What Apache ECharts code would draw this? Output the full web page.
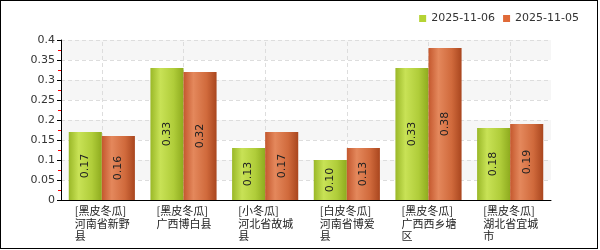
<!DOCTYPE html>
<html><head><meta charset="utf-8">
<script src="https://cdn.jsdelivr.net/npm/echarts@6/dist/echarts.min.js"></script>
<style>
html,body{margin:0;padding:0;background:#fff;}
#frame{position:absolute;left:0;top:0;width:596px;height:247px;border:1px solid #000;}
#c{position:absolute;left:0;top:0;width:600px;height:250px;}
</style></head>
<body><div id="frame"></div><div id="c"></div>
<script>
const categories = ['[黑皮冬瓜]\n河南省新野\n县','[黑皮冬瓜]\n广西博白县','[小冬瓜]\n河北省故城\n县','[白皮冬瓜]\n河南省博爱\n县','[黑皮冬瓜]\n广西西乡塘\n区','[黑皮冬瓜]\n湖北省宜城\n市'];
const seriesNames = ['2025-11-06','2025-11-05'];
const values1106 = [0.17,0.33,0.13,0.10,0.33,0.18];
const values1105 = [0.16,0.32,0.17,0.13,0.38,0.19];
const yTicks = [0,0.05,0.1,0.15,0.2,0.25,0.3,0.35,0.4];

const green = new echarts.graphic.LinearGradient(0,0,1,0,[
  {offset:0,color:'#9ab828'},{offset:0.3,color:'#c8e256'},{offset:0.7,color:'#b0cd3a'},{offset:1,color:'#8eab1e'}]);
const red = new echarts.graphic.LinearGradient(0,0,1,0,[
  {offset:0,color:'#c4582e'},{offset:0.3,color:'#e4885c'},{offset:0.7,color:'#d06a3c'},{offset:1,color:'#a9461e'}]);

const chart = echarts.init(document.getElementById('c'),null,{renderer:'canvas'});
const lbl = {show:true,position:'inside',rotate:90,color:'#222',fontSize:11,fontFamily:'DejaVu Sans',
  formatter:p=>p.value.toFixed(2)};
chart.setOption({
  animation:false,
  legend:{right:16,top:8,itemWidth:7,itemHeight:7,itemGap:8,icon:'rect',
    textStyle:{fontSize:11,color:'#333',fontFamily:'DejaVu Sans'},
    data:[{name:seriesNames[0],itemStyle:{color:'#b5d334'}},{name:seriesNames[1],itemStyle:{color:'#e06a38'}}]},
  grid:{left:61,right:49,top:40,bottom:50},
  xAxis:{type:'category',data:categories,
    axisLine:{lineStyle:{color:'#000'}},axisTick:{show:false},
    splitLine:{show:false},z:5,
    axisLabel:{interval:0,margin:5,color:'#222',fontSize:11,fontFamily:'Noto Sans CJK SC',lineHeight:12.5,
      formatter:v=>v.split('\n').map(s=>'{a|'+s+'}').join('\n'),
      rich:{a:{width:54,align:'left',fontSize:11,lineHeight:12.5,color:'#222',fontFamily:'Noto Sans CJK SC'}}}},
  yAxis:{type:'value',min:yTicks[0],max:yTicks[yTicks.length-1],interval:0.05,z:0,
    axisLine:{show:true,lineStyle:{color:'#000'}},
    axisTick:{show:true,length:4,lineStyle:{color:'#000'}},
    minorTick:{show:true,splitNumber:2,length:3,lineStyle:{color:'#f00'}},
    axisLabel:{color:'#333',fontSize:11,margin:6,fontFamily:'DejaVu Sans'},
    splitLine:{show:true,lineStyle:{color:'#ddd',type:[4,3]}},
    splitArea:{show:true,areaStyle:{color:['#ffffff','#f6f6f6']}}},
  series:[
    {name:seriesNames[0],type:'bar',data:values1106,barGap:'0%',barCategoryGap:'19%',
      itemStyle:{color:green},label:lbl},
    {name:seriesNames[1],type:'bar',data:values1105,
      itemStyle:{color:red},label:lbl},
    {name:'_grid',type:'line',data:[],silent:true,showSymbol:false,z:1,
      markLine:{silent:true,z:1,symbol:['none','none'],label:{show:false},animation:false,
        lineStyle:{color:'#ddd',type:[4,3],width:1},
        data:categories.map((c,i)=>({xAxis:i}))}}
  ]
});
</script></body></html>
